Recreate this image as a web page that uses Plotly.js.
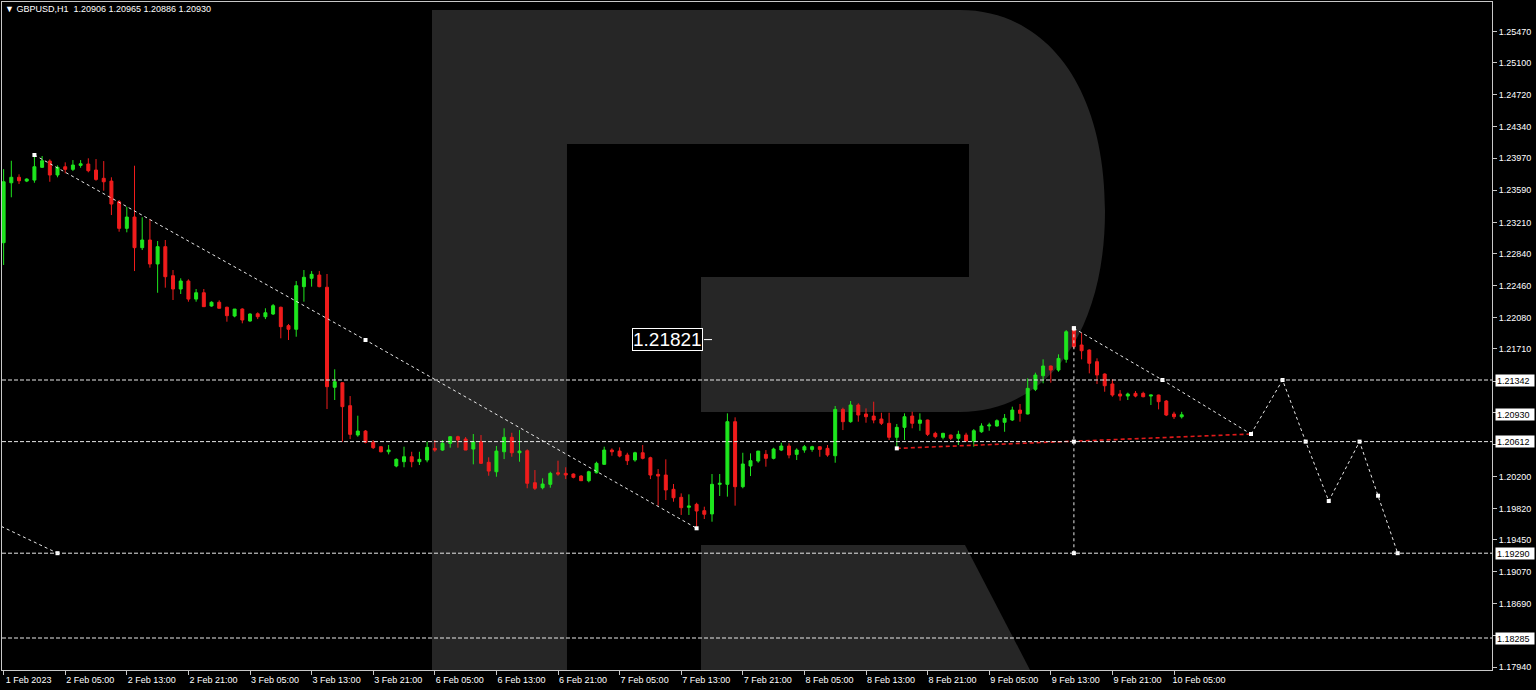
<!DOCTYPE html>
<html><head><meta charset="utf-8">
<script src="https://cdn.plot.ly/plotly-3.0.1.min.js"></script>
<style>html,body{margin:0;padding:0;background:#000;overflow:hidden}#chart{width:1536px;height:690px}</style>
</head><body><div id="chart"></div>
<script>
// ---- data (hourly bars, index 0 = 1 Feb 2023 21:00, weekend bars omitted) ----
const tickLabels = ["1 Feb 2023","2 Feb 05:00","2 Feb 13:00","2 Feb 21:00","3 Feb 05:00","3 Feb 13:00","3 Feb 21:00","6 Feb 05:00","6 Feb 13:00","6 Feb 21:00","7 Feb 05:00","7 Feb 13:00","7 Feb 21:00","8 Feb 05:00","8 Feb 13:00","8 Feb 21:00","9 Feb 05:00","9 Feb 13:00","9 Feb 21:00","10 Feb 05:00"];
const openP = [1.22969,1.23679,1.23744,1.23699,1.23711,1.23862,1.23936,1.23771,1.23869,1.23838,1.23885,1.23901,1.23830,1.23732,1.23699,1.23454,1.23139,1.23273,1.22910,1.23001,
1.22717,1.22922,1.22578,1.22420,1.22515,1.22301,1.22376,1.22219,1.22263,1.22204,1.22100,1.22183,1.22041,1.22127,1.22092,1.22124,1.22204,1.21986,1.21943,1.22448,
1.22547,1.22586,1.22441,1.21256,1.21310,1.21038,1.20690,1.20737,1.20604,1.20552,1.20492,1.20323,1.20374,1.20433,1.20374,1.20394,1.20532,1.20512,1.20592,1.20670,
1.20642,1.20524,1.20611,1.20367,1.20255,1.20492,1.20663,1.20480,1.20504,1.20125,1.20066,1.20106,1.20243,1.20236,1.20228,1.20204,1.20149,1.20243,1.20343,1.20512,
1.20500,1.20453,1.20394,1.20480,1.20421,1.20224,1.20216,1.20047,1.19952,1.19834,1.19869,1.19794,1.19755,1.20106,1.20106,1.20848,1.20078,1.20323,1.20382,1.20461,
1.20414,1.20512,1.20560,1.20461,1.20512,1.20520,1.20552,1.20532,1.20445,1.20994,1.20848,1.21046,1.20939,1.20915,1.20880,1.20829,1.20663,1.20781,1.20915,1.20829,
1.20868,1.20710,1.20663,1.20690,1.20651,1.20690,1.20619,1.20729,1.20797,1.20797,1.20841,1.20868,1.20986,1.20939,1.21232,1.21393,1.21508,1.21460,1.21587,1.21955,
1.21757,1.21697,1.21559,1.21413,1.21295,1.21176,1.21152,1.21184,1.21184,1.21152,1.21164,1.21093,1.20939,1.20906];
const highP = [1.23841,1.23940,1.23779,1.23732,1.24008,1.23996,1.23957,1.23885,1.23921,1.23948,1.23948,1.23969,1.23960,1.23936,1.23744,1.23474,1.23395,1.23881,1.23270,1.23249,
1.22989,1.23001,1.22645,1.22547,1.22535,1.22420,1.22420,1.22275,1.22286,1.22211,1.22183,1.22192,1.22132,1.22144,1.22192,1.22243,1.22211,1.22006,1.22515,1.22645,
1.22633,1.22633,1.22598,1.21469,1.21315,1.21152,1.20919,1.20749,1.20631,1.20556,1.20572,1.20414,1.20552,1.20492,1.20492,1.20611,1.20631,1.20631,1.20678,1.20682,
1.20666,1.20702,1.20690,1.20426,1.20560,1.20770,1.20717,1.20749,1.20520,1.20275,1.20177,1.20255,1.20386,1.20308,1.20236,1.20216,1.20267,1.20374,1.20552,1.20532,
1.20544,1.20480,1.20492,1.20572,1.20433,1.20287,1.20402,1.20110,1.19999,1.19987,1.19888,1.19841,1.20228,1.20228,1.20947,1.20900,1.20480,1.20473,1.20500,1.20512,
1.20540,1.20599,1.20592,1.20532,1.20572,1.20563,1.20556,1.20572,1.21034,1.21014,1.21093,1.21066,1.21006,1.21085,1.20954,1.20954,1.20821,1.20947,1.20966,1.20947,
1.20872,1.20729,1.20717,1.20694,1.20741,1.20717,1.20761,1.20829,1.20836,1.20876,1.20939,1.21026,1.21058,1.21362,1.21429,1.21587,1.21512,1.21646,1.21934,1.21982,
1.21902,1.21705,1.21599,1.21421,1.21350,1.21223,1.21192,1.21211,1.21203,1.21164,1.21168,1.21105,1.20966,1.20965];
const lowP = [1.22705,1.23507,1.23664,1.23687,1.23679,1.23857,1.23691,1.23744,1.23791,1.23818,1.23857,1.23803,1.23703,1.23585,1.23297,1.23099,1.23092,1.22633,1.22882,1.22673,
1.22376,1.22436,1.22290,1.22361,1.22270,1.22270,1.22211,1.22211,1.22192,1.22033,1.22085,1.22014,1.22033,1.22064,1.22064,1.22112,1.21836,1.21816,1.21855,1.22270,
1.22448,1.22441,1.20998,1.21105,1.20611,1.20642,1.20670,1.20592,1.20524,1.20485,1.20461,1.20308,1.20308,1.20308,1.20335,1.20367,1.20492,1.20504,1.20540,1.20540,
1.20512,1.20343,1.20347,1.20208,1.20196,1.20405,1.20433,1.20374,1.20059,1.20039,1.20047,1.20066,1.20208,1.20168,1.20177,1.20145,1.20130,1.20236,1.20338,1.20445,
1.20426,1.20335,1.20374,1.20402,1.20168,1.19853,1.19920,1.19900,1.19743,1.19743,1.19585,1.19695,1.19663,1.19968,1.19960,1.19853,1.20059,1.20204,1.20362,1.20315,
1.20402,1.20500,1.20414,1.20394,1.20480,1.20492,1.20433,1.20433,1.20362,1.20749,1.20836,1.20848,1.20836,1.20829,1.20809,1.20631,1.20520,1.20631,1.20770,1.20741,
1.20678,1.20651,1.20639,1.20631,1.20572,1.20611,1.20552,1.20717,1.20741,1.20789,1.20729,1.20856,1.20848,1.20935,1.21211,1.21303,1.21310,1.21440,1.21547,1.21718,
1.21587,1.21421,1.21295,1.21203,1.21144,1.21097,1.21105,1.21137,1.21137,1.21046,1.20994,1.20915,1.20880,1.20886];
const closeP = [1.23691,1.23744,1.23703,1.23723,1.23869,1.23940,1.23771,1.23862,1.23838,1.23889,1.23904,1.23822,1.23719,1.23691,1.23427,1.23139,1.23273,1.22910,1.23001,1.22717,
1.22922,1.22566,1.22420,1.22515,1.22301,1.22376,1.22211,1.22263,1.22192,1.22104,1.22183,1.22053,1.22124,1.22092,1.22139,1.22223,1.21974,1.21943,1.22460,1.22559,
1.22594,1.22448,1.21263,1.21322,1.21026,1.20698,1.20737,1.20604,1.20540,1.20492,1.20512,1.20402,1.20433,1.20374,1.20402,1.20544,1.20512,1.20592,1.20670,1.20631,
1.20512,1.20611,1.20355,1.20263,1.20500,1.20663,1.20480,1.20500,1.20118,1.20059,1.20110,1.20236,1.20228,1.20216,1.20189,1.20149,1.20255,1.20355,1.20512,1.20492,
1.20441,1.20386,1.20480,1.20414,1.20216,1.20204,1.20039,1.19947,1.19829,1.19849,1.19790,1.19751,1.20106,1.20118,1.20848,1.20078,1.20347,1.20386,1.20500,1.20414,
1.20524,1.20560,1.20453,1.20512,1.20552,1.20552,1.20520,1.20453,1.20994,1.20848,1.21046,1.20927,1.20907,1.20868,1.20829,1.20663,1.20781,1.20907,1.20829,1.20868,
1.20698,1.20670,1.20710,1.20651,1.20698,1.20619,1.20741,1.20797,1.20809,1.20860,1.20888,1.20986,1.20947,1.21243,1.21401,1.21508,1.21460,1.21598,1.21914,1.21737,
1.21689,1.21540,1.21401,1.21274,1.21164,1.21152,1.21176,1.21152,1.21144,1.21164,1.21085,1.20927,1.20907,1.20930];
const yTicks = [1.25470,1.25100,1.24720,1.24340,1.23970,1.23590,1.23210,1.22840,1.22460,1.22080,1.21710,1.21330,1.20960,1.20580,1.20200,1.19820,1.19450,1.19070,1.18690,1.18310,1.17940];
const levels = [1.21342, 1.20612, 1.19290, 1.18285];
const lastPrice = 1.20930;
const priceMark = 1.21821;
// analysis drawings (bar index, price)
const trendAx = [4, 47, 90],            trendAy = [1.24008, 1.21816, 1.19585];
const trendBx = [-1, 7],                trendBy = [1.19638, 1.19290];
const trendCx = [139, 150.5, 162],      trendCy = [1.21955, 1.21342, 1.20702];
const redLx = [116, 162],               redLy = [1.20532, 1.20702];
const vertX = [139, 139, 139],          vertY = [1.21955, 1.20612, 1.19290];
const fcX = [162, 166.1, 169.1, 172.1, 176.1, 178.5, 181.05];
const fcY = [1.20702, 1.21342, 1.20612, 1.19908, 1.20612, 1.19971, 1.19290];

// ---- figure ----
const FONT = 'Liberation Sans, Arial, sans-serif';
const idx = openP.map((_, i) => i);
const tickIdx = tickLabels.map((_, i) => i * 8);

function lineTrace(x, y, color, dash, w) {
  return {type:'scatter', mode:'lines+markers', x:x, y:y, hoverinfo:'skip', showlegend:false,
    line:{color:color, width:w || 1, dash:dash},
    marker:{symbol:'square', size:4, color:'#ffffff'}};
}

const traces = [
  {type:'candlestick', x:idx, open:openP, high:highP, low:lowP, close:closeP,
   increasing:{line:{color:'#1ee61e', width:1}, fillcolor:'#1ee61e'},
   decreasing:{line:{color:'#f01c1c', width:1}, fillcolor:'#f01c1c'},
   whiskerwidth:0, hoverinfo:'skip', showlegend:false},
  lineTrace(trendAx, trendAy, '#e8e8e8', '3px,3px'),
  lineTrace(trendBx, trendBy, '#e8e8e8', '3px,3px'),
  lineTrace(trendCx, trendCy, '#e8e8e8', '3px,3px'),
  lineTrace(redLx, redLy, '#e01a1a', '4px,3px', 1.6),
  lineTrace(vertX, vertY, '#e8e8e8', '3px,3px'),
  lineTrace(fcX, fcY, '#e8e8e8', '3px,3px'),
  {type:'scatter', mode:'lines', x:[90.95, 92], y:[priceMark, priceMark], hoverinfo:'skip', showlegend:false,
   line:{color:'#ffffff', width:1}}
];

// watermark "R" (decoration, pixel geometry converted to paper coords)
const L0 = 2, T0 = 2, W0 = 1490, H0 = 668;
function P(x, y) { return ((x - L0) / W0).toFixed(5) + ',' + (1 - (y - T0) / H0).toFixed(5); }
const rBody = 'M' + P(432,10) + ' L' + P(960,10) + ' C' + P(1045,10) + ' ' + P(1105,85) + ' ' + P(1105,211) +
  ' C' + P(1105,335) + ' ' + P(1045,412) + ' ' + P(960,412) + ' L' + P(701,412) + ' L' + P(701,277) +
  ' L' + P(969,277) + ' L' + P(969,144) + ' L' + P(567,144) + ' L' + P(567,670) + ' L' + P(432,670) + ' Z';
const rLeg = 'M' + P(701,545) + ' L' + P(965,545) + ' L' + P(1030,670) + ' L' + P(701,670) + ' Z';

const shapes = [
  {type:'path', xref:'paper', yref:'paper', path:rBody, fillcolor:'#262626', line:{width:0}, layer:'below'},
  {type:'path', xref:'paper', yref:'paper', path:rLeg, fillcolor:'#262626', line:{width:0}, layer:'below'}
].concat(levels.map(v => ({type:'line', xref:'paper', x0:0, x1:1, yref:'y', y0:v, y1:v,
  line:{color:'#e8e8e8', width:1, dash:'4px,2px'}, layer:'above'})));

const annotations = levels.concat([lastPrice]).map(v => ({
  xref:'paper', x:1, xanchor:'left', xshift:3, yref:'y', y:v, yanchor:'middle',
  text:v.toFixed(5), showarrow:false, bgcolor:'#ffffff', borderpad:1, width:36, height:9, align:'left',
  font:{family:FONT, size:9, color:'#000000'}
}));
annotations.push({xref:'x', x:90.85, xanchor:'right', yref:'y', y:priceMark, yanchor:'middle',
  text:priceMark.toFixed(5), showarrow:false, bgcolor:'#000000', bordercolor:'#ffffff', borderwidth:1, borderpad:0,
  font:{family:FONT, size:19, color:'#ffffff'}});

const layout = {
  width:1536, height:690,
  paper_bgcolor:'#000000', plot_bgcolor:'#000000',
  margin:{l:2, r:44, t:2, b:20},
  showlegend:false, boxgap:0.45,
  title:{text:'▼ GBPUSD,H1\u00a0\u00a01.20906 1.20965 1.20886 1.20930', xref:'container', x:5/1536, xanchor:'left',
         yref:'container', y:1 - 9/690, yanchor:'middle', font:{family:FONT, size:9, color:'#ffffff'}},
  xaxis:{range:[-0.21, 193.3], tickmode:'array', tickvals:tickIdx, ticktext:tickLabels,
         ticks:'outside', ticklen:4, tickcolor:'#c8c8c8', showline:true, linecolor:'#c8c8c8', linewidth:1, mirror:true,
         showgrid:false, zeroline:false, rangeslider:{visible:false}, ticklabelshift:25, ticklabelstandoff:-3,
         tickfont:{family:FONT, size:9, color:'#ffffff'}, fixedrange:true},
  yaxis:{side:'right', range:[1.17906, 1.25821], tickmode:'array', tickvals:yTicks, tickformat:'.5f',
         ticks:'outside', ticklen:4, tickcolor:'#c8c8c8', showline:true, linecolor:'#c8c8c8', linewidth:1, mirror:true,
         showgrid:false, zeroline:false, tickfont:{family:FONT, size:9, color:'#ffffff'}, fixedrange:true},
  shapes:shapes, annotations:annotations
};

Plotly.newPlot('chart', traces, layout, {displayModeBar:false, staticPlot:true});
</script>
</body></html>
